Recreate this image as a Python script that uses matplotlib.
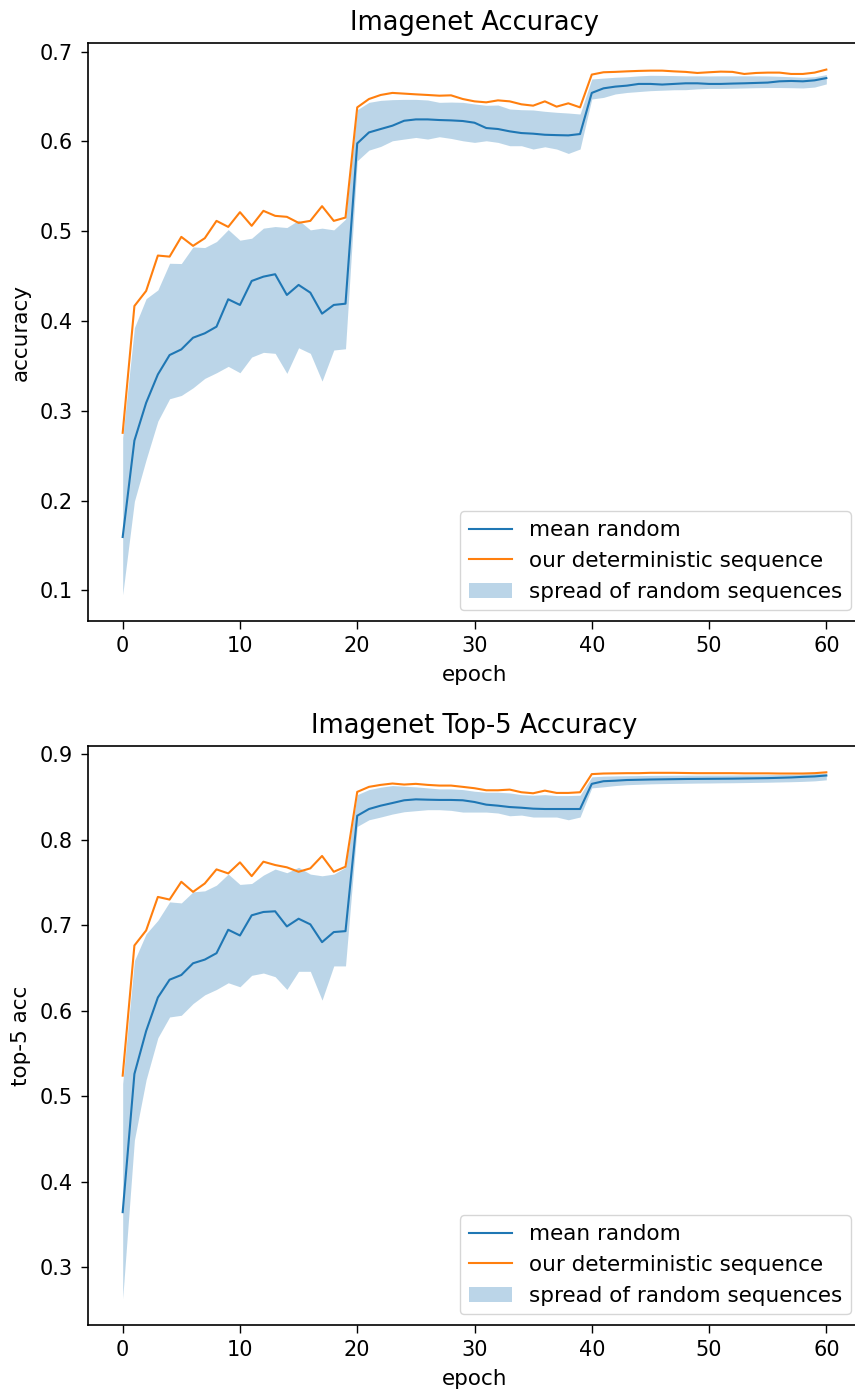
import numpy as np
import matplotlib
matplotlib.use("Agg")
import matplotlib.pyplot as plt

epochs = list(range(61))

# ---- Imagenet Accuracy (top-1) ----
top1_mean = [0.1595, 0.2669, 0.3089, 0.3405, 0.3621, 0.3684, 0.3814, 0.3863, 0.3937, 0.4242,
             0.4179, 0.4446, 0.4494, 0.4521, 0.4290, 0.4402, 0.4316, 0.4082, 0.4179, 0.4193,
             0.5978, 0.6100, 0.6138, 0.6175, 0.6230, 0.6245, 0.6245, 0.6238, 0.6234, 0.6227,
             0.6208, 0.6149, 0.6138, 0.6112, 0.6093, 0.6086, 0.6074, 0.6070, 0.6067, 0.6082,
             0.6540, 0.6591, 0.6610, 0.6621, 0.6640, 0.6640, 0.6633, 0.6640, 0.6647, 0.6647,
             0.6640, 0.6640, 0.6644, 0.6647, 0.6651, 0.6655, 0.6669, 0.6673, 0.6669, 0.6680,
             0.6705]
top1_det = [0.2755, 0.4167, 0.4335, 0.4729, 0.4717, 0.4937, 0.4837, 0.4922, 0.5115, 0.5048,
            0.5212, 0.5060, 0.5227, 0.5171, 0.5160, 0.5093, 0.5115, 0.5279, 0.5115, 0.5152,
            0.6379, 0.6472, 0.6517, 0.6540, 0.6532, 0.6524, 0.6517, 0.6509, 0.6513, 0.6472,
            0.6446, 0.6435, 0.6457, 0.6446, 0.6413, 0.6398, 0.6446, 0.6387, 0.6424, 0.6379,
            0.6744, 0.6770, 0.6774, 0.6780, 0.6785, 0.6788, 0.6788, 0.6780, 0.6774, 0.6762,
            0.6770, 0.6777, 0.6774, 0.6751, 0.6762, 0.6766, 0.6766, 0.6751, 0.6751, 0.6766,
            0.6800]
top1_upper = [0.2700, 0.3926, 0.4249, 0.4346, 0.4643, 0.4640, 0.4825, 0.4818, 0.4885, 0.5018,
              0.4900, 0.4922, 0.5034, 0.5052, 0.5041, 0.5123, 0.5015, 0.5034, 0.5015, 0.5134,
              0.6353, 0.6435, 0.6457, 0.6465, 0.6468, 0.6468, 0.6461, 0.6435, 0.6438, 0.6435,
              0.6417, 0.6402, 0.6405, 0.6361, 0.6353, 0.6350, 0.6335, 0.6324, 0.6316, 0.6305,
              0.6695, 0.6705, 0.6714, 0.6720, 0.6730, 0.6736, 0.6735, 0.6733, 0.6730, 0.6730,
              0.6729, 0.6730, 0.6730, 0.6730, 0.6730, 0.6729, 0.6725, 0.6720, 0.6714, 0.6720,
              0.6744]
top1_lower = [0.0952, 0.1993, 0.2457, 0.2885, 0.3134, 0.3171, 0.3256, 0.3361, 0.3424, 0.3495,
              0.3424, 0.3599, 0.3651, 0.3640, 0.3417, 0.3702, 0.3640, 0.3331, 0.3677, 0.3691,
              0.5784, 0.5903, 0.5944, 0.6007, 0.6026, 0.6044, 0.6026, 0.6052, 0.6033, 0.6007,
              0.5989, 0.6007, 0.5989, 0.5952, 0.5952, 0.5915, 0.5940, 0.5915, 0.5866, 0.5915,
              0.6472, 0.6490, 0.6528, 0.6545, 0.6555, 0.6565, 0.6570, 0.6575, 0.6576, 0.6585,
              0.6590, 0.6590, 0.6592, 0.6595, 0.6598, 0.6600, 0.6600, 0.6598, 0.6595, 0.6605,
              0.6640]

# ---- Imagenet Top-5 Accuracy ----
top5_mean = [0.3647, 0.5263, 0.5765, 0.6157, 0.6365, 0.6420, 0.6557, 0.6600, 0.6675, 0.6949,
             0.6882, 0.7118, 0.7157, 0.7165, 0.6988, 0.7078, 0.7012, 0.6804, 0.6922, 0.6933,
             0.8282, 0.8361, 0.8400, 0.8431, 0.8463, 0.8474, 0.8470, 0.8467, 0.8467, 0.8463,
             0.8443, 0.8412, 0.8400, 0.8384, 0.8376, 0.8365, 0.8361, 0.8361, 0.8361, 0.8361,
             0.8655, 0.8686, 0.8692, 0.8700, 0.8703, 0.8706, 0.8708, 0.8710, 0.8712, 0.8713,
             0.8714, 0.8715, 0.8716, 0.8718, 0.8720, 0.8722, 0.8726, 0.8730, 0.8737, 0.8742,
             0.8753]
top5_det = [0.5243, 0.6765, 0.6941, 0.7333, 0.7302, 0.7510, 0.7392, 0.7490, 0.7655, 0.7608,
            0.7737, 0.7576, 0.7745, 0.7706, 0.7679, 0.7627, 0.7667, 0.7812, 0.7627, 0.7686,
            0.8561, 0.8620, 0.8643, 0.8659, 0.8647, 0.8655, 0.8643, 0.8635, 0.8635, 0.8620,
            0.8604, 0.8580, 0.8580, 0.8588, 0.8557, 0.8545, 0.8576, 0.8549, 0.8549, 0.8557,
            0.8769, 0.8776, 0.8778, 0.8780, 0.8780, 0.8784, 0.8784, 0.8784, 0.8782, 0.8780,
            0.8780, 0.8780, 0.8780, 0.8778, 0.8778, 0.8778, 0.8776, 0.8776, 0.8776, 0.8780,
            0.8790]
top5_upper = [0.5150, 0.6588, 0.6902, 0.7059, 0.7275, 0.7263, 0.7392, 0.7404, 0.7471, 0.7600,
              0.7479, 0.7490, 0.7588, 0.7659, 0.7616, 0.7679, 0.7600, 0.7580, 0.7600, 0.7679,
              0.8529, 0.8588, 0.8616, 0.8635, 0.8627, 0.8620, 0.8608, 0.8596, 0.8596, 0.8588,
              0.8569, 0.8557, 0.8557, 0.8549, 0.8529, 0.8522, 0.8529, 0.8518, 0.8518, 0.8522,
              0.8737, 0.8745, 0.8748, 0.8750, 0.8752, 0.8754, 0.8755, 0.8756, 0.8757, 0.8757,
              0.8758, 0.8758, 0.8759, 0.8760, 0.8760, 0.8762, 0.8764, 0.8766, 0.8770, 0.8775,
              0.8780]
top5_lower = [0.2635, 0.4490, 0.5196, 0.5686, 0.5929, 0.5949, 0.6086, 0.6188, 0.6251, 0.6329,
              0.6282, 0.6416, 0.6443, 0.6400, 0.6251, 0.6463, 0.6463, 0.6126, 0.6526, 0.6526,
              0.8157, 0.8235, 0.8267, 0.8302, 0.8329, 0.8341, 0.8353, 0.8353, 0.8345, 0.8325,
              0.8325, 0.8325, 0.8314, 0.8282, 0.8290, 0.8267, 0.8267, 0.8267, 0.8235, 0.8267,
              0.8608, 0.8620, 0.8635, 0.8645, 0.8650, 0.8655, 0.8658, 0.8660, 0.8662, 0.8664,
              0.8665, 0.8667, 0.8668, 0.8670, 0.8672, 0.8674, 0.8677, 0.8680, 0.8684, 0.8690,
              0.8702]

titles = ["Imagenet Accuracy", "Imagenet Top-5 Accuracy"]
ylabels = ["accuracy", "top-5 acc"]
legend_labels = ["mean random", "our deterministic sequence", "spread of random sequences"]

plt.rcParams['font.family'] = ['DejaVu Sans']
plt.rcParams['font.size'] = 15.5
plt.rcParams['xtick.labelsize'] = 15
plt.rcParams['ytick.labelsize'] = 15

W, H = 855, 1392
fig = plt.figure(figsize=(W / 100, H / 100), dpi=100)

ax_left = 87.5 / W
ax_width = 774.0 / W
positions = [
    (ax_left, (H - 621) / H, ax_width, (621 - 43.3) / H),
    (ax_left, (H - 1325) / H, ax_width, (1325 - 746) / H),
]
datasets = [
    (top1_mean, top1_det, top1_lower, top1_upper),
    (top5_mean, top5_det, top5_lower, top5_upper),
]

for pos, (mean, det, lo, hi), title, ylabel in zip(positions, datasets, titles, ylabels):
    ax = fig.add_axes(pos)
    ax.plot(epochs, mean, color='C0', lw=1.5, label=legend_labels[0])
    ax.plot(epochs, det, color='C1', lw=1.5, label=legend_labels[1])
    ax.fill_between(epochs, lo, hi, color='C0', alpha=0.3, lw=0, label=legend_labels[2])
    ax.set_title(title, fontsize=18.5, pad=9.3)
    ax.set_xlabel("epoch", labelpad=6.2)
    ax.set_ylabel(ylabel, labelpad=6.2)
    ax.set_xticks([0, 10, 20, 30, 40, 50, 60])
    ax.legend(loc='lower right')
    for s in ax.spines.values():
        s.set_linewidth(1.2)
    ax.tick_params(width=1.0, length=5.4, pad=5.4)

fig.savefig("out.png", dpi=100)
